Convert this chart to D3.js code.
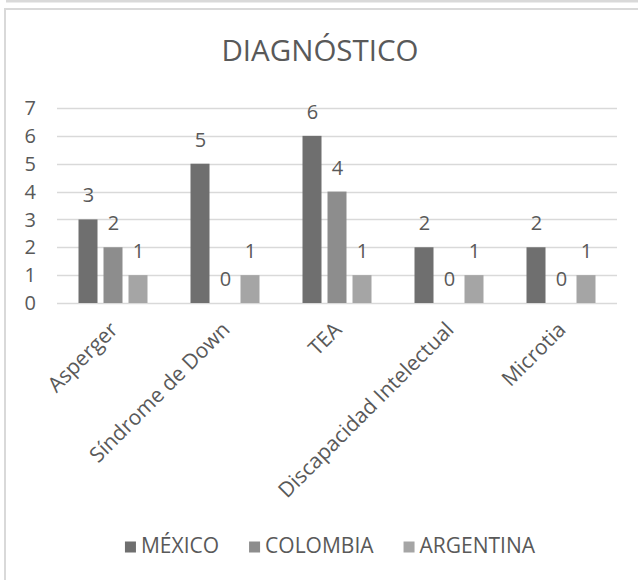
<!DOCTYPE html>
<html>
<head>
<meta charset="utf-8">
<script src="https://cdn.jsdelivr.net/npm/d3@7"></script>
<style>
  html, body { margin: 0; padding: 0; background: #fff; }
  svg { display: block; }
  text { font-family: "Open Sans", "Noto Sans", sans-serif; fill: #595959; }
</style>
</head>
<body>
<script>
const title = "DIAGNÓSTICO";
const categories = ["Asperger", "Síndrome de Down", "TEA", "Discapacidad Intelectual", "Microtia"];
const seriesNames = ["MÉXICO", "COLOMBIA", "ARGENTINA"];
const mexico = [3, 5, 6, 2, 2];
const colombia = [2, 0, 4, 0, 0];
const argentina = [1, 1, 1, 1, 1];
const yTicks = [0, 1, 2, 3, 4, 5, 6, 7];
const colors = ["#6f6f6f", "#8d8d8d", "#a5a5a5"];

const seriesValues = [mexico, colombia, argentina];

const W = 638, H = 580;
const svg = d3.select("body").append("svg").attr("width", W).attr("height", H);

// frame
svg.append("rect").attr("x", 6).attr("y", 0).attr("width", W - 6).attr("height", 2.5).attr("fill", "#d9d9d9");
svg.append("rect").attr("x", 4).attr("y", 8).attr("width", W - 4).attr("height", 2).attr("fill", "#d9d9d9");
svg.append("rect").attr("x", 4).attr("y", 8).attr("width", 2).attr("height", H - 8).attr("fill", "#d9d9d9");

// title
svg.append("text").attr("x", 320).attr("y", 61).attr("text-anchor", "middle")
  .style("font-size", "29.5px").text(title);

const plot = { left: 57, right: 617, top: 108, bottom: 303 };

const x0 = d3.scaleBand().domain(categories).range([plot.left, plot.right]).paddingInner(0.384).paddingOuter(0.192);
const x1 = d3.scaleBand().domain(seriesNames).range([0, x0.bandwidth()]).paddingInner(0.24);
const y = d3.scaleLinear().domain([0, 7]).range([plot.bottom, plot.top]);

// gridlines
svg.append("g").selectAll("line").data(yTicks).join("line")
  .attr("x1", plot.left).attr("x2", plot.right)
  .attr("y1", d => Math.round(y(d)) + 0.5).attr("y2", d => Math.round(y(d)) + 0.5)
  .attr("stroke", "#d9d9d9").attr("stroke-width", 1.3);

// y labels
svg.append("g").selectAll("text").data(yTicks).join("text")
  .attr("x", 36).attr("y", d => y(d)).attr("dy", "0.36em").attr("text-anchor", "end")
  .style("font-size", "20px").text(d => d);

// bars
const data = [];
categories.forEach((c, i) => {
  seriesNames.forEach((s, j) => data.push({ c, s, j, v: seriesValues[j][i] }));
});

svg.append("g").selectAll("rect").data(data).join("rect")
  .attr("x", d => x0(d.c) + x1(d.s))
  .attr("y", d => y(d.v))
  .attr("width", x1.bandwidth())
  .attr("height", d => y(0) - y(d.v))
  .attr("fill", d => colors[d.j]);

// data labels
svg.append("g").selectAll("text").data(data).join("text")
  .attr("x", d => x0(d.c) + x1(d.s) + x1.bandwidth() / 2 + 0.5)
  .attr("y", d => y(d.v) - 17)
  .attr("text-anchor", "middle")
  .style("font-size", "20px").text(d => d.v);

// category labels
svg.append("g").selectAll("text").data(categories).join("text")
  .attr("transform", d => `translate(${x0(d) + x0.bandwidth() / 2 + 6},${plot.bottom + 28}) rotate(-45)`)
  .attr("text-anchor", "end")
  .style("font-size", "21px").text(d => d);

// legend
const legend = svg.append("g");
const items = legend.selectAll("g").data(seriesNames).join("g");
items.append("rect").attr("width", 11).attr("height", 11).attr("y", -11.5).attr("fill", (d, i) => colors[i]);
items.append("text").attr("x", 16).attr("y", 0).style("font-size", "21px").text(d => d);
let cx = 0;
items.each(function () {
  const w = this.querySelector("text").getComputedTextLength() + 16;
  d3.select(this).attr("transform", `translate(${cx},0)`);
  cx += w + 30;
});
const total = cx - 30;
legend.attr("transform", `translate(${330 - total / 2},553)`);
</script>
</body>
</html>
